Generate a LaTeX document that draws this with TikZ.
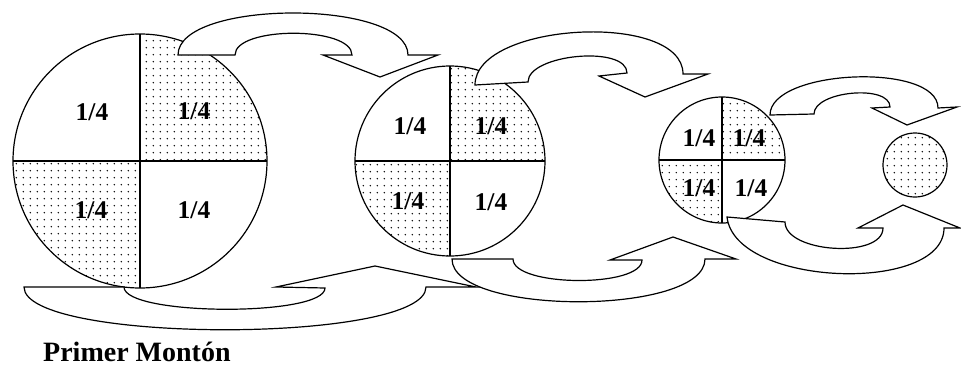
\documentclass[tikz,border=0pt]{standalone}
\usepackage{fontspec}
\setmainfont{Liberation Serif}
\usetikzlibrary{patterns}
\pgfdeclarepatternformonly{sparsedots}{\pgfqpoint{0pt}{0pt}}{\pgfqpoint{6.8pt}{6.8pt}}{\pgfqpoint{6.8pt}{6.8pt}}{\pgfpathcircle{\pgfqpoint{3.4pt}{3.4pt}}{0.8pt}\pgfusepath{fill}}
\tikzset{
  outline/.style={draw=black, line width=1.2pt},
  band/.style={outline, fill=white, line join=miter},
  dotarea/.style={pattern=sparsedots, pattern color=black},
  quarter/.style={font=\bfseries\fontsize{25.5}{26}\selectfont, inner sep=0pt},
  titletext/.style={font=\bfseries\fontsize{28}{30}\selectfont, inner sep=0pt, anchor=base west},
}
\begin{document}
\begin{tikzpicture}[x=1pt, y=-1pt]
\useasboundingbox (0,0) rectangle (961,367);

% ---- circles with quarters ----
\foreach \cx/\cy/\r in {140/161/127, 450/161/95, 722/160/63} {
  \fill[white] (\cx,\cy) circle (\r);
  \begin{scope}
    \clip (\cx,\cy) circle (\r);
    \fill[dotarea] (\cx,\cy) rectangle ({\cx+\r},{\cy-\r});
    \fill[dotarea] ({\cx-\r},\cy) rectangle (\cx,{\cy+\r});
  \end{scope}
  \draw[outline] (\cx,\cy) circle (\r);
  \draw[outline] (\cx,{\cy-\r}) -- (\cx,{\cy+\r});
  \draw[outline] ({\cx-\r},\cy) -- ({\cx+\r},\cy);
}
% last small heap
\fill[white] (915,165) circle (32);
\fill[dotarea] (915,165) circle (32);
\draw[outline] (915,165) circle (32);

% ---- labels ----
\node[quarter] (a1) at (92,112) {1/4};
\node[quarter] (a2) at (194,111) {1/4};
\node[quarter] (a3) at (91,210) {1/4};
\node[quarter] (a4) at (194,210) {1/4};
\node[quarter] (b1) at (410,126) {1/4};
\node[quarter] (b2) at (491,126) {1/4};
\node[quarter] (b3) at (408,201) {1/4};
\node[quarter] (b4) at (491,202) {1/4};
\node[quarter] (c1) at (699,138) {1/4};
\node[quarter] (c2) at (749,138) {1/4};
\node[quarter] (c3) at (699,188) {1/4};
\node[quarter] (c4) at (751,188) {1/4};

% ---- top curved arrows ----
\draw[band] (178,55) .. controls (178,-1) and (408,-1) .. (408,55)
  -- (438,55) -- (380,77) -- (323,55) -- (352,55)
  .. controls (352,26) and (235,26) .. (235,55) -- cycle;
\draw[band] (475,85) .. controls (475,22) and (683,11) .. (683,74)
  -- (708,74) -- (645,97) -- (599,76) -- (627,73)
  .. controls (627,45) and (528,54) .. (528,82) -- cycle;
\draw[band] (770,115) .. controls (770,69) and (938,62) .. (938,108)
  -- (957,107) -- (907,125) -- (872,108) -- (890,107)
  .. controls (890,84) and (814,91) .. (814,114) -- cycle;

% ---- bottom curved arrows ----
\draw[band] (727,217) .. controls (735,287) and (944,294) .. (944,228)
  -- (960,228) -- (903,205) -- (858,228) -- (883,228)
  .. controls (883,259) and (785,253) .. (785,222) -- cycle;
\draw[band] (452,259) .. controls (452,316) and (705,316) .. (705,259)
  -- (736,259) -- (673,237) -- (610,260) -- (642,260)
  .. controls (642,288) and (513,287) .. (513,259) -- cycle;
\draw[band] (24,287) .. controls (24,344) and (426,344) .. (426,287)
  -- (476,287) -- (375,266) -- (276,287) -- (325,288)
  .. controls (325,317) and (124,316) .. (124,287) -- cycle;

% ---- caption ----
\node[titletext] (title) at (43,361) {Primer Montón};
\end{tikzpicture}
\end{document}
